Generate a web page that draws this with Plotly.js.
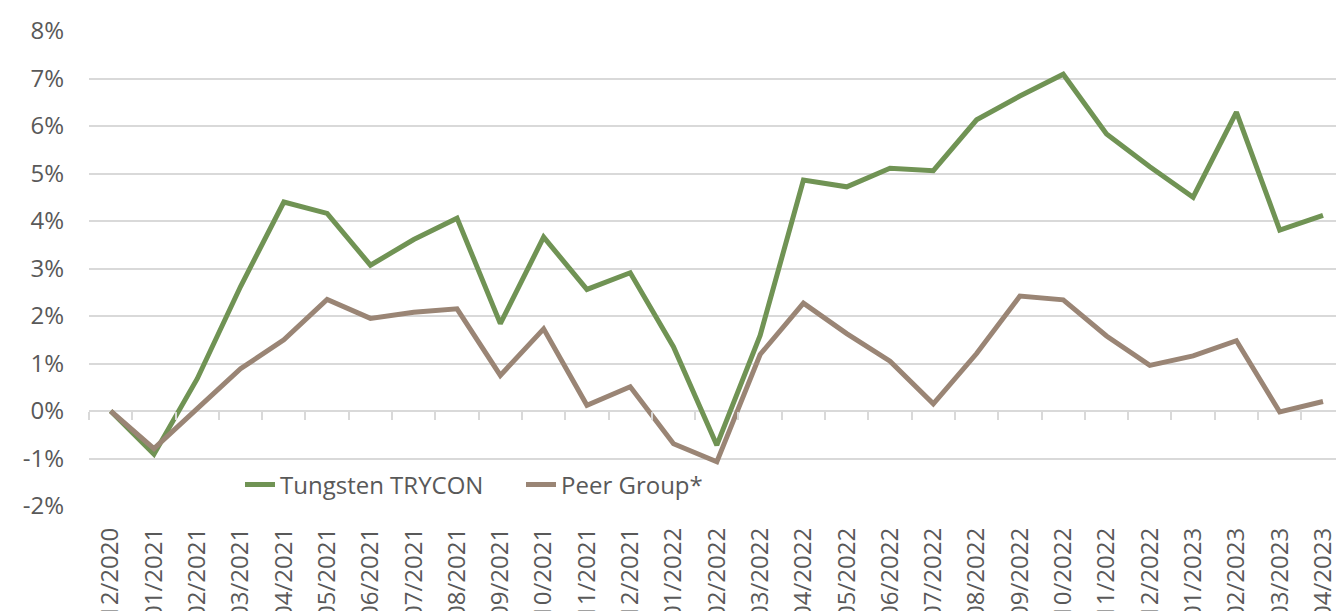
<!DOCTYPE html>
<html>
<head>
<meta charset="utf-8">
<script src="https://cdn.plot.ly/plotly-3.0.1.min.js"></script>
<style>html,body{margin:0;padding:0;background:#fff;}#chart{width:1336px;height:611px;}</style>
</head>
<body>
<div id="chart"></div>
<script>
const months = ["12/2020","01/2021","02/2021","03/2021","04/2021","05/2021","06/2021","07/2021","08/2021","09/2021","10/2021","11/2021","12/2021","01/2022","02/2022","03/2022","04/2022","05/2022","06/2022","07/2022","08/2022","09/2022","10/2022","11/2022","12/2022","01/2023","02/2023","03/2023","04/2023"];
const tungsten = [0, -0.91, 0.68, 2.62, 4.40, 4.16, 3.07, 3.61, 4.06, 1.84, 3.66, 2.56, 2.91, 1.35, -0.72, 1.59, 4.86, 4.72, 5.11, 5.06, 6.13, 6.63, 7.09, 5.83, 5.14, 4.50, 6.29, 3.81, 4.12];
const peer = [0, -0.79, 0.05, 0.89, 1.50, 2.35, 1.95, 2.08, 2.15, 0.75, 1.73, 0.12, 0.51, -0.69, -1.07, 1.19, 2.27, 1.63, 1.05, 0.15, 1.21, 2.42, 2.34, 1.58, 0.96, 1.16, 1.48, -0.02, 0.20];
const yTicks = [-2, -1, 0, 1, 2, 3, 4, 5, 6, 7, 8];
const yTickText = yTicks.map(v => v + '%');

const txt = '#595959';
const fontFam = '"Open Sans", "Noto Sans", sans-serif';
const fs = 24;

const traces = [
  {x: months, y: tungsten, name: 'Tungsten TRYCON', type: 'scatter', mode: 'lines',
   line: {color: '#709354', width: 5}, hoverinfo: 'skip'},
  {x: months, y: peer, name: 'Peer Group*', type: 'scatter', mode: 'lines',
   line: {color: '#9a8575', width: 5}, hoverinfo: 'skip'},
  // carrier so the zero-line tick axis is drawn (fully transparent)
  {x: months.map((m, i) => i), y: peer, xaxis: 'x2', type: 'scatter', mode: 'lines',
   line: {color: 'rgba(0,0,0,0)', width: 0}, showlegend: false, hoverinfo: 'skip'}
];

const layout = {
  width: 1336, height: 611,
  margin: {l: 89, r: 0, t: 31, b: 105},
  paper_bgcolor: '#fff', plot_bgcolor: '#fff',
  font: {family: fontFam, size: fs, color: txt},
  showlegend: true,
  legend: {orientation: 'h', x: (240 - 89) / 1247, xanchor: 'left', y: (506 - 485) / 475, yanchor: 'middle',
           font: {family: fontFam, size: fs, color: txt}, bgcolor: 'rgba(0,0,0,0)',
           entrywidth: 236, entrywidthmode: 'pixels', tracegroupgap: 0},
  xaxis: {type: 'category', range: [-0.5, 28.3], showgrid: false, zeroline: false, showline: false,
          ticks: '', tickangle: -90, ticklabelstandoff: 16,
          tickfont: {family: fontFam, size: fs, color: txt}, fixedrange: true},
  xaxis2: {overlaying: 'x', anchor: 'free', position: 0.2, type: 'linear', range: [-0.5, 28.3],
           tickmode: 'linear', tick0: -0.5, dtick: 1, ticks: 'outside', ticklen: 8, tickwidth: 2,
           tickcolor: '#d9d9d9', showticklabels: false, showgrid: false, zeroline: false, showline: false,
           fixedrange: true},
  yaxis: {range: [-2, 8], tickvals: yTicks, ticktext: yTickText, showgrid: true, gridcolor: '#d9d9d9', gridwidth: 2,
          zeroline: false, showline: false, ticks: '', ticklabelstandoff: 24,
          tickfont: {family: fontFam, size: fs, color: txt}, fixedrange: true}
};

Plotly.newPlot('chart', traces, layout, {displayModeBar: false, staticPlot: true});
</script>
</body>
</html>
